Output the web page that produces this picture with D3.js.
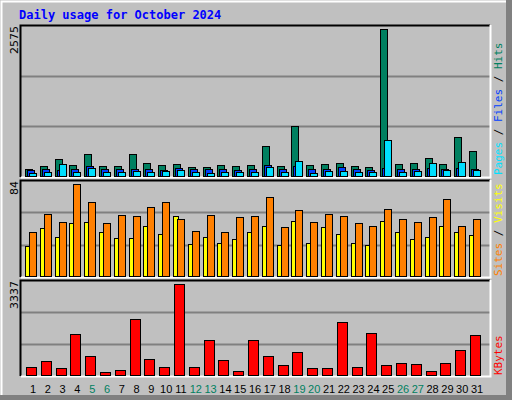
<!DOCTYPE html>
<html>
<head>
<meta charset="utf-8">
<script src="https://cdn.jsdelivr.net/npm/d3@7"></script>
<style>
  body { margin: 0; background: #fff; }
  svg { display: block; }
</style>
</head>
<body>
<svg id="chart" width="512" height="400"></svg>
<script>
const days = d3.range(1, 32);
const weekend = [5, 6, 12, 13, 19, 20, 26, 27];

const hits = [128, 169, 291, 186, 379, 169, 169, 379, 221, 186, 204, 151, 151, 186, 169, 186,
  519, 169, 868, 186, 204, 221, 169, 151, 2575, 204, 221, 309, 204, 676, 431];
const files = [99, 117, 99, 117, 169, 117, 117, 117, 117, 99, 134, 117, 117, 117, 99, 117,
  186, 117, 169, 117, 117, 151, 117, 99, 134, 117, 117, 134, 117, 134, 117];
const pages = [47, 64, 204, 64, 134, 64, 64, 82, 64, 82, 99, 64, 47, 64, 64, 64,
  151, 64, 256, 47, 82, 82, 64, 64, 623, 64, 82, 221, 99, 239, 99];

const sites = [27, 44, 36, 48, 49, 40, 35, 35, 46, 38, 55, 29, 36, 30, 34, 40,
  46, 28, 50, 30, 45, 38, 30, 28, 50, 40, 34, 36, 46, 40, 37];
const visits = [40, 57, 49, 84, 68, 48, 56, 55, 63, 68, 52, 41, 56, 40, 54, 55,
  72, 45, 60, 49, 57, 55, 48, 46, 61, 52, 49, 54, 70, 46, 52];

const kbytes = [293, 513, 257, 1504, 697, 110, 183, 2054, 587, 293, 3337, 293, 1284, 550, 147, 1284,
  697, 367, 844, 257, 257, 1944, 293, 1541, 367, 440, 403, 147, 440, 917, 1467];

const svg = d3.select('#chart');
const mono = 'DejaVu Sans Mono, monospace';

// frame
svg.append('rect').attr('width', 512).attr('height', 400).attr('fill', '#c0c0c0');
svg.append('rect').attr('x', 506).attr('y', 0).attr('width', 6).attr('height', 400).attr('fill', '#808080');
svg.append('rect').attr('x', 0).attr('y', 395).attr('width', 512).attr('height', 5).attr('fill', '#808080');
svg.append('path').attr('d', 'M1.5,395V1.5H506').attr('stroke', '#fff').attr('stroke-width', 2).attr('fill', 'none');

svg.append('text').attr('x', 19).attr('y', 19)
  .attr('font-family', mono).attr('font-weight', 'bold').attr('font-size', 12)
  .attr('fill', '#0000ff').text('Daily usage for October 2024');

const x = d3.scaleLinear().domain([1, 31]).range([25, 469]);

function panel(top, bottom, max) {
  const g = svg.append('g');
  g.append('rect').attr('x', 20).attr('y', top).attr('width', 470).attr('height', bottom - top)
    .attr('fill', '#c0c0c0');
  const y = d3.scaleLinear().domain([0, max]).range([bottom - 1, top + 4]);
  const h = bottom - top;
  [1, 2].forEach(k => {
    g.append('line').attr('x1', 21).attr('x2', 490)
      .attr('y1', Math.round(top + h * k / 3) + 0.5).attr('y2', Math.round(top + h * k / 3) + 0.5)
      .attr('stroke', '#808080').attr('stroke-width', 2);
  });
  g.append('path').attr('d', `M20.5,${bottom}V${top + 0.5}H490`).attr('stroke', '#000').attr('stroke-width', 2).attr('fill', 'none');
  g.append('path').attr('d', `M21,${bottom + 0.5}H490.5V${top}`).attr('stroke', '#fff').attr('stroke-width', 2).attr('fill', 'none');
  g.append('text').attr('transform', `translate(18,${top + 1}) rotate(-90)`)
    .attr('text-anchor', 'end').attr('font-family', 'DejaVu Sans, sans-serif').attr('font-size', 11)
    .attr('fill', '#000').text(max);
  return { g, y };
}

function bars(p, data, dx, w, color) {
  p.g.selectAll(null).data(data).enter().append('rect')
    .attr('x', (d, i) => Math.round(x(days[i])) + dx + 0.5)
    .attr('y', d => Math.round(p.y(d)) + 0.5)
    .attr('width', w)
    .attr('height', d => Math.max(0, Math.round(p.y(0)) - Math.round(p.y(d))))
    .attr('fill', color).attr('stroke', '#000').attr('stroke-width', 1);
}

const p1 = panel(25, 177, 2575);
bars(p1, hits, 0, 7, '#008060');
bars(p1, files, 2, 7, '#0040ff');
bars(p1, pages, 4, 7, '#00e0ff');

const p2 = panel(180, 277, 84);
bars(p2, sites, 0, 5, '#ffff00');
bars(p2, visits, 4, 7, '#ff8000');

const p3 = panel(280, 376, 3337);
bars(p3, kbytes, 1, 10, '#ff0000');

// day labels
svg.selectAll('.day').data(days).enter().append('text')
  .attr('x', d => x(d) + 8).attr('y', 393).attr('text-anchor', 'middle')
  .attr('font-family', 'Liberation Sans, Arial, sans-serif').attr('font-size', 11)
  .attr('fill', d => weekend.includes(d) ? '#008060' : '#000').text(d => d);

// right side legends (rotated)
function legend(yBottom, parts) {
  const t = svg.append('text').attr('transform', `translate(502,${yBottom}) rotate(-90)`)
    .attr('font-family', mono).attr('font-size', 11);
  parts.forEach(([s, c]) => t.append('tspan').attr('fill', c).text(s));
}
legend(175, [['Pages', '#00e0ff'], [' / ', '#000'], ['Files', '#0040ff'], [' / ', '#000'], ['Hits', '#008060']]);
legend(276, [['Sites', '#ff8000'], [' / ', '#000'], ['Visits', '#ffff00']]);
legend(375, [['KBytes', '#ff0000']]);
</script>
</body>
</html>
